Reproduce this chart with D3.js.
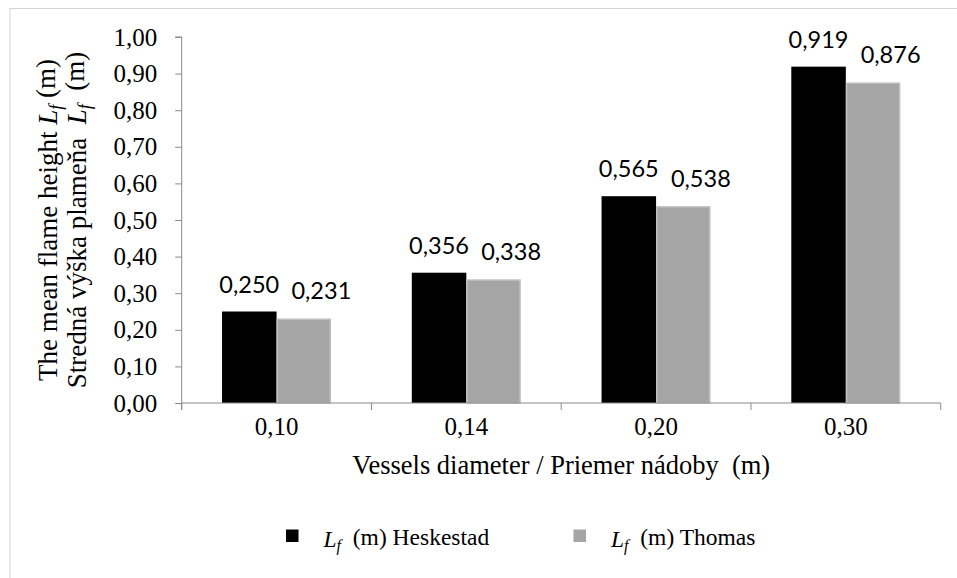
<!DOCTYPE html>
<html>
<head>
<meta charset="utf-8">
<script src="https://cdn.jsdelivr.net/npm/d3@7"></script>
<style>
  body { margin: 0; background: #fff; }
  svg { display: block; }
  .serif { font-family: "Liberation Serif", "Times New Roman", serif; white-space: pre; }
</style>
</head>
<body>
<script>
var categories = ["0,10", "0,14", "0,20", "0,30"]
var heskestad = [0.250, 0.356, 0.565, 0.919]
var thomas = [0.231, 0.338, 0.538, 0.876]
var seriesNames = ["Heskestad", "Thomas"]
var yTicks = [0, 0.1, 0.2, 0.3, 0.4, 0.5, 0.6, 0.7, 0.8, 0.9, 1.0]

var fills = ["#000000", "#a5a5a5"]
var strokes = ["#000000", "#c0c0c0"]
var labelShift = [0, 17.5]   // Excel nudged the Thomas labels to the right

var svg = d3.select("body").append("svg")
	.attr("width", 957)
	.attr("height", 578)

// outer frame (runs off the right and bottom edges)
svg.append("rect")
	.attr("x", 10).attr("y", 8.5)
	.attr("width", 980).attr("height", 600)
	.attr("fill", "#fff")
	.attr("stroke", "#d4d4d4")

var plotL = 181.7, plotR = 940.7, plotT = 37, plotB = 403

var x0 = d3.scaleBand().domain(categories).range([plotL, plotR]).padding(0)
var x1 = d3.scaleBand().domain(seriesNames).range([0, x0.bandwidth()])
	.paddingInner(0).paddingOuter(0.74)
var y = d3.scaleLinear().domain([0, 1]).range([plotB, plotT])

var fmt = function(v, n) { return v.toFixed(n).replace(".", ",") }

var rows = categories.map(function(c, i) {
	return { cat: c, vals: [heskestad[i], thomas[i]] }
})

// y axis
var yAxis = svg.append("g")
	.attr("transform", "translate(" + plotL + ",0)")
	.call(d3.axisLeft(y).tickValues(yTicks).tickSize(6.5).tickPadding(18)
		.tickFormat(function(d) { return fmt(d, 2) }))
yAxis.attr("font-family", null)
yAxis.select(".domain").attr("stroke", "#898989").attr("d", "M0," + (plotB + 7) + "V" + plotT + "H-6.5")
yAxis.selectAll(".tick line").attr("stroke", "#898989")
yAxis.selectAll(".tick text")
	.attr("class", "serif")
	.style("font-size", "25px")
	.attr("fill", "#000")

// bars
var groups = svg.selectAll("g.cat")
	.data(rows)
	.enter()
	.append("g")
	.attr("class", "cat")
	.attr("transform", function(d) { return "translate(" + x0(d.cat) + ",0)" })

groups.selectAll("rect")
	.data(function(d) { return d.vals.map(function(v, k) { return { v: v, k: k } }) })
	.enter()
	.append("rect")
	.attr("x", function(d) { return x1(seriesNames[d.k]) + (d.k ? 0.75 : 0) })
	.attr("y", function(d) { return y(d.v) + (d.k ? 0.75 : 0) })
	.attr("width", function(d) { return x1.bandwidth() - (d.k ? 1.5 : 0) })
	.attr("height", function(d) { return y(0) - y(d.v) - (d.k ? 0.75 : 0) })
	.attr("fill", function(d) { return fills[d.k] })
	.attr("stroke", function(d) { return d.k ? strokes[d.k] : "none" })
	.attr("stroke-width", 1.5)

groups.selectAll("text.val")
	.data(function(d) { return d.vals.map(function(v, k) { return { v: v, k: k } }) })
	.enter()
	.append("text")
	.attr("class", "val")
	.attr("x", function(d) { return x1(seriesNames[d.k]) + x1.bandwidth() / 2 + labelShift[d.k] })
	.attr("y", function(d) { return y(d.v) - 19 })
	.attr("text-anchor", "middle")
	.style("font-family", "Lato, 'Open Sans', sans-serif")
	.style("font-size", "23.5px")
	.text(function(d) { return fmt(d.v, 3) })

// x axis
var xAxis = svg.append("g")
	.attr("transform", "translate(0," + plotB + ")")
	.call(d3.axisBottom(x0).tickSize(0).tickPadding(32))
xAxis.attr("font-family", null)
xAxis.select(".domain").attr("stroke", "#898989").attr("d", "M" + plotL + ",0H" + plotR)
xAxis.selectAll(".tick text")
	.attr("class", "serif")
	.style("font-size", "25px")
	.attr("fill", "#000")
	.attr("dy", 0)
	.attr("y", 32)
var xTickPos = categories.map(function(c) { return x0(c) }).concat([plotR])
xAxis.selectAll("line.cross")
	.data(xTickPos)
	.enter()
	.append("line")
	.attr("class", "cross")
	.attr("x1", function(d) { return d }).attr("x2", function(d) { return d })
	.attr("y1", 0).attr("y2", 7)
	.attr("stroke", "#898989")

// axis titles
svg.append("text")
	.attr("class", "serif")
	.attr("x", (plotL + plotR) / 2)
	.attr("y", 474)
	.attr("text-anchor", "middle")
	.style("font-size", "26.5px")
	.text("Vessels diameter / Priemer nádoby  (m)")

function lf(sel, size) {
	sel.append("tspan").style("font-style", "italic").text("L")
	sel.append("tspan").style("font-style", "italic").style("font-size", size)
		.attr("dy", "0.25em").text("f")
	return sel
}

var yt = svg.append("g")
	.attr("transform", "translate(57," + ((plotT + plotB) / 2) + ") rotate(-90)")
var yt1 = yt.append("text").attr("class", "serif").attr("text-anchor", "middle")
	.style("font-size", "27px")
yt1.append("tspan").text("The mean flame height ")
lf(yt1, "18px")
yt1.append("tspan").attr("dy", "-0.25em").text(" (m)")

var yt2 = yt.append("text").attr("class", "serif").attr("text-anchor", "middle")
	.attr("y", 29)
	.style("font-size", "27px")
yt2.append("tspan").text("Stredná výška plameňa  ")
lf(yt2, "18px")
yt2.append("tspan").attr("dy", "-0.25em").text("  (m)")

// legend
var legX = [286, 573.5]
var legend = svg.selectAll("g.leg")
	.data(seriesNames)
	.enter()
	.append("g")
	.attr("class", "leg")
	.attr("transform", function(d, i) { return "translate(" + legX[i] + ",0)" })
legend.append("rect")
	.attr("x", 0).attr("y", 529.5)
	.attr("width", 12.5).attr("height", 12.5)
	.attr("fill", function(d, i) { return fills[i] })
legend.each(function(d) {
	var t = d3.select(this).append("text")
		.attr("class", "serif")
		.attr("x", 37.5).attr("y", 546.5)
		.style("font-size", "23.5px")
	lf(t, "16px")
	t.append("tspan").attr("dy", "-0.25em").text("  (m) " + d)
})
</script>
</body>
</html>
